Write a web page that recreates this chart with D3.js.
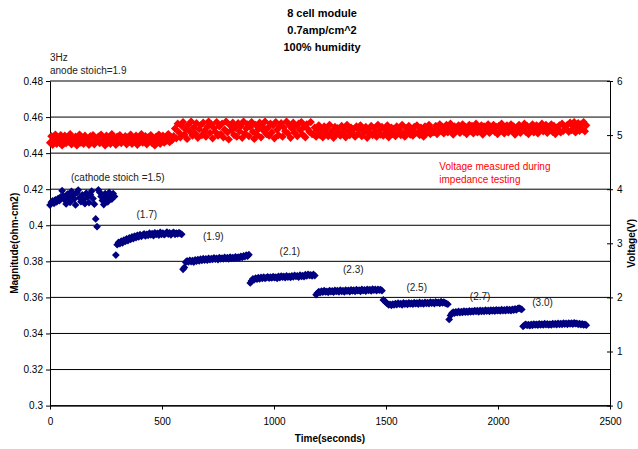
<!DOCTYPE html>
<html>
<head>
<meta charset="utf-8">
<script src="https://cdn.jsdelivr.net/npm/d3@7"></script>
<style>
  body { margin: 0; background: #fff; }
  svg text { font-family: Arial, "Liberation Sans", sans-serif; }
  .axis path, .axis line { stroke: #000; }
  .axis text { font-size: 10px; fill: #000; }
</style>
</head>
<body>
<div id="chart"></div>
<script>
// Readings every 6 s; each stoich step starts at its own time.
var sampleStep = 6;

var titleLines = ["8 cell module", "0.7amp/cm^2", "100% humidity"];
var noteLines = ["3Hz", "anode stoich=1.9"];

var magTicks = [0.3, 0.32, 0.34, 0.36, 0.38, 0.4, 0.42, 0.44, 0.46, 0.48];
var voltTicks = [0, 1, 2, 3, 4, 5, 6];
var timeTicks = [0, 500, 1000, 1500, 2000, 2500];

// cathode stoich steps: label, start time (s), label anchor [time, magnitude]
var stoichLabels = ["(cathode stoich =1.5)", "(1.7)", "(1.9)", "(2.1)", "(2.3)", "(2.5)", "(2.7)", "(3.0)"];
var stoichStart = [0, 294, 594, 894, 1188, 1488, 1782, 2112];
var stoichLabelAt = [[303, 0.4246], [432, 0.404], [729, 0.3919], [1071, 0.3835],
                     [1354, 0.3736], [1637, 0.3636], [1920, 0.3586], [2199, 0.3553]];

// Impedance magnitude (ohm-cm2) per stoich step
var mag15 = [0.4112, 0.4128, 0.4135, 0.4122, 0.4141, 0.4130, 0.4148, 0.4136, 0.4158, 0.4192,
             0.4162, 0.4140, 0.4118, 0.4173, 0.4150, 0.4127, 0.4188, 0.4163, 0.4145, 0.4113,
             0.4180, 0.4195, 0.4152, 0.4131, 0.4168, 0.4142, 0.4120, 0.4178, 0.4157, 0.4126,
             0.4171, 0.4190, 0.4148, 0.4117, 0.4035, 0.3992, 0.4196, 0.4183, 0.4160, 0.4138,
             0.4115, 0.4175, 0.4152, 0.4130, 0.4182, 0.4168, 0.4145, 0.4176, 0.4160];
var mag17 = [0.3835, 0.3892, 0.3905, 0.3898, 0.3912, 0.3903, 0.3918, 0.3910, 0.3925, 0.3915,
             0.3930, 0.3922, 0.3935, 0.3926, 0.3940, 0.3931, 0.3944, 0.3936, 0.3948, 0.3939,
             0.3945, 0.3952, 0.3941, 0.3950, 0.3944, 0.3956, 0.3947, 0.3953, 0.3943, 0.3958,
             0.3949, 0.3955, 0.3946, 0.3961, 0.3950, 0.3957, 0.3948, 0.3954, 0.3962, 0.3951,
             0.3958, 0.3947, 0.3956, 0.3960, 0.3950, 0.3957, 0.3952, 0.3959, 0.3954, 0.3950];
var mag19 = [0.3756, 0.3766, 0.3795, 0.3802, 0.3797, 0.3806, 0.3799, 0.3804, 0.3796, 0.3808,
             0.3801, 0.3810, 0.3803, 0.3812, 0.3805, 0.3815, 0.3807, 0.3813, 0.3806, 0.3817,
             0.3809, 0.3815, 0.3811, 0.3819, 0.3812, 0.3817, 0.3810, 0.3820, 0.3813, 0.3818,
             0.3814, 0.3822, 0.3815, 0.3820, 0.3813, 0.3823, 0.3816, 0.3821, 0.3817, 0.3825,
             0.3818, 0.3823, 0.3819, 0.3828, 0.3822, 0.3830, 0.3826, 0.3834, 0.3829, 0.3837];
var mag21 = [0.3680, 0.3692, 0.3703, 0.3698, 0.3707, 0.3701, 0.3709, 0.3703, 0.3711, 0.3705,
             0.3712, 0.3706, 0.3710, 0.3714, 0.3707, 0.3712, 0.3708, 0.3715, 0.3709, 0.3713,
             0.3706, 0.3716, 0.3710, 0.3718, 0.3712, 0.3716, 0.3709, 0.3719, 0.3713, 0.3717,
             0.3711, 0.3720, 0.3714, 0.3722, 0.3716, 0.3720, 0.3713, 0.3723, 0.3717, 0.3721,
             0.3715, 0.3726, 0.3720, 0.3728, 0.3722, 0.3725, 0.3719, 0.3727, 0.3721];
var mag23 = [0.3615, 0.3624, 0.3632, 0.3627, 0.3635, 0.3629, 0.3637, 0.3630, 0.3634, 0.3628,
             0.3638, 0.3632, 0.3636, 0.3629, 0.3639, 0.3633, 0.3637, 0.3631, 0.3640, 0.3634,
             0.3638, 0.3630, 0.3641, 0.3635, 0.3639, 0.3632, 0.3642, 0.3636, 0.3640, 0.3633,
             0.3643, 0.3637, 0.3641, 0.3634, 0.3644, 0.3638, 0.3642, 0.3635, 0.3645, 0.3639,
             0.3643, 0.3636, 0.3646, 0.3640, 0.3644, 0.3638, 0.3645, 0.3640, 0.3643, 0.3637];
var mag25 = [0.3586, 0.3580, 0.3572, 0.3565, 0.3559, 0.3562, 0.3556, 0.3563, 0.3558, 0.3566,
             0.3560, 0.3568, 0.3562, 0.3566, 0.3559, 0.3569, 0.3563, 0.3567, 0.3561, 0.3570,
             0.3564, 0.3568, 0.3562, 0.3571, 0.3565, 0.3569, 0.3563, 0.3572, 0.3566, 0.3570,
             0.3564, 0.3573, 0.3567, 0.3571, 0.3565, 0.3574, 0.3568, 0.3572, 0.3566, 0.3575,
             0.3569, 0.3573, 0.3567, 0.3576, 0.3570, 0.3574, 0.3568, 0.3566, 0.3562];
var mag27 = [0.3478, 0.3500, 0.3512, 0.3518, 0.3513, 0.3520, 0.3515, 0.3522, 0.3516, 0.3521,
             0.3517, 0.3524, 0.3518, 0.3523, 0.3519, 0.3525, 0.3520, 0.3524, 0.3521, 0.3527,
             0.3522, 0.3526, 0.3520, 0.3528, 0.3523, 0.3527, 0.3522, 0.3529, 0.3524, 0.3528,
             0.3523, 0.3530, 0.3525, 0.3529, 0.3524, 0.3531, 0.3526, 0.3530, 0.3525, 0.3532,
             0.3527, 0.3531, 0.3526, 0.3533, 0.3528, 0.3532, 0.3527, 0.3534, 0.3529, 0.3536,
             0.3531, 0.3538, 0.3541, 0.3537, 0.3533];
var mag30 = [0.3440, 0.3446, 0.3451, 0.3445, 0.3449, 0.3443, 0.3450, 0.3445, 0.3452, 0.3447,
             0.3451, 0.3446, 0.3453, 0.3448, 0.3452, 0.3447, 0.3454, 0.3449, 0.3453, 0.3447,
             0.3452, 0.3448, 0.3455, 0.3450, 0.3454, 0.3449, 0.3456, 0.3451, 0.3455, 0.3450,
             0.3457, 0.3452, 0.3456, 0.3451, 0.3458, 0.3453, 0.3457, 0.3452, 0.3459, 0.3454,
             0.3456, 0.3451, 0.3455, 0.3449, 0.3453, 0.3447, 0.3451, 0.3446];
var magSteps = [mag15, mag17, mag19, mag21, mag23, mag25, mag27, mag30];

// Cell voltage (V) measured during impedance testing, in four stretches
var voltStart = [0, 552, 1176, 1716];
var volt1 = [4.86, 4.98, 4.82, 4.93, 5.01, 4.84, 4.95, 4.89, 5.00, 4.81,
             4.92, 4.99, 4.85, 4.96, 4.88, 5.02, 4.83, 4.94, 4.90, 4.97,
             4.81, 4.91, 5.01, 4.86, 4.95, 4.84, 4.99, 4.89, 4.93, 4.82,
             4.98, 4.87, 5.00, 4.83, 4.94, 4.90, 4.97, 4.85, 5.01, 4.88,
             4.92, 4.81, 4.99, 4.86, 4.95, 4.84, 5.02, 4.89, 4.93, 4.82,
             4.97, 4.87, 5.00, 4.85, 4.94, 4.91, 4.98, 4.83, 4.96, 4.88,
             5.01, 4.84, 4.93, 4.90, 4.99, 4.82, 4.95, 4.87, 5.02, 4.86,
             4.92, 4.98, 4.83, 4.96, 4.89, 5.00, 4.85, 4.94, 4.81, 4.97,
             4.88, 5.01, 4.84, 4.93, 4.99, 4.86, 4.95, 4.90, 5.02, 4.87,
             4.96, 4.91];
var volt2 = [4.98, 5.12, 4.94, 5.21, 5.05, 4.96, 5.17, 5.24, 5.01, 5.10,
             4.93, 5.19, 5.07, 5.25, 4.99, 5.14, 5.03, 5.22, 4.95, 5.11,
             5.18, 5.00, 5.23, 5.08, 4.97, 5.15, 5.25, 5.04, 5.20, 4.94,
             5.13, 5.06, 5.24, 4.99, 5.16, 5.02, 5.21, 4.96, 5.10, 5.25,
             5.05, 4.92, 5.18, 5.09, 5.23, 5.00, 5.14, 4.97, 5.22, 5.07,
             5.17, 4.95, 5.25, 5.03, 5.12, 5.20, 4.98, 5.15, 5.24, 5.06,
             4.93, 5.19, 5.01, 5.11, 5.23, 4.96, 5.16, 5.08, 5.25, 5.02,
             5.13, 4.99, 5.21, 5.05, 5.18, 4.94, 5.24, 5.10, 5.00, 5.17,
             5.22, 4.97, 5.14, 5.07, 5.25, 5.03, 5.19, 4.95, 5.12, 5.23,
             5.04, 5.16, 4.98, 5.21, 5.09, 5.24, 5.01, 5.15, 4.96, 5.20,
             5.11, 5.06, 5.24, 5.02];
var volt3 = [5.02, 5.14, 4.97, 5.09, 5.18, 5.00, 5.11, 4.96, 5.16, 5.05,
             5.12, 4.98, 5.19, 5.04, 5.08, 4.95, 5.15, 5.01, 5.13, 5.06,
             4.99, 5.17, 5.03, 5.10, 4.96, 5.19, 5.07, 5.00, 5.14, 5.04,
             5.11, 4.97, 5.16, 5.02, 5.09, 5.18, 4.98, 5.12, 5.05, 5.15,
             4.95, 5.10, 5.03, 5.17, 5.00, 5.13, 5.06, 4.97, 5.19, 5.08,
             5.01, 5.15, 4.99, 5.11, 5.04, 5.18, 4.96, 5.09, 5.14, 5.02,
             5.12, 4.98, 5.16, 5.05, 5.10, 5.00, 5.19, 5.03, 4.97, 5.13,
             5.07, 5.17, 5.01, 5.11, 4.99, 5.15, 5.04, 5.18, 5.06, 5.00,
             5.14, 5.08, 4.97, 5.16, 5.03, 5.12, 5.19, 5.02, 5.10, 5.05];
var volt4 = [5.06, 5.17, 5.02, 5.13, 5.20, 5.08, 5.15, 5.03, 5.11, 5.19,
             5.05, 5.14, 5.21, 5.09, 5.01, 5.16, 5.07, 5.12, 5.18, 5.04,
             5.10, 5.20, 5.06, 5.15, 5.02, 5.13, 5.19, 5.08, 5.17, 5.03,
             5.11, 5.21, 5.05, 5.14, 5.09, 5.18, 5.01, 5.16, 5.07, 5.12,
             5.20, 5.04, 5.13, 5.10, 5.19, 5.06, 5.15, 5.02, 5.17, 5.08,
             5.21, 5.11, 5.03, 5.14, 5.18, 5.05, 5.12, 5.20, 5.07, 5.16,
             5.01, 5.13, 5.09, 5.19, 5.04, 5.15, 5.11, 5.21, 5.06, 5.17,
             5.02, 5.14, 5.08, 5.20, 5.05, 5.12, 5.18, 5.03, 5.16, 5.10,
             5.21, 5.07, 5.13, 5.19, 5.04, 5.15, 5.09, 5.20, 5.06, 5.17,
             5.02, 5.14, 5.11, 5.18, 5.05, 5.21, 5.08, 5.16, 5.12, 5.19,
             5.06, 5.23, 5.09, 5.17, 5.24, 5.05, 5.14, 5.22, 5.08, 5.20,
             5.11, 5.24, 5.07, 5.18];
var voltStretches = [volt1, volt2, volt3, volt4];

var voltNote = ["Voltage measured during", "impedance testing"];
var voltNoteAt = [1738, 0.4304];

// Turn the step arrays into {t, v} points.
function toPoints(starts, lists) {
  var pts = [];
  lists.forEach(function(list, k) {
    list.forEach(function(v, i) {
      pts.push({ t: starts[k] + i * sampleStep, v: v });
    });
  });
  return pts;
}
var magPoints = toPoints(stoichStart, magSteps);
var voltPoints = toPoints(voltStart, voltStretches);

// Chart frame (plot area edges in pixels).
var chartW = 638, chartH = 449;
var plotL = 50, plotR = 610, plotT = 81, plotB = 405.6;

var xScale = d3.scaleLinear().domain([0, 2500]).range([plotL, plotR]);
var yMag = d3.scaleLinear().domain([0.3, 0.48]).range([plotB, plotT]);
var yVolt = d3.scaleLinear().domain([0, 6]).range([plotB, plotT]);

var svg = d3.select("#chart").append("svg")
  .attr("width", chartW)
  .attr("height", chartH);

// Gridlines at the magnitude ticks.
svg.append("g")
  .selectAll("line")
  .data(magTicks)
  .enter().append("line")
  .attr("x1", plotL)
  .attr("x2", plotR)
  .attr("y1", function(d) { return yMag(d); })
  .attr("y2", function(d) { return yMag(d); })
  .attr("stroke", "#000")
  .attr("stroke-width", 1);

// Axes.
svg.append("g")
  .attr("class", "axis")
  .attr("transform", "translate(" + plotL + ",0)")
  .call(d3.axisLeft(yMag).tickValues(magTicks).tickFormat(String)
    .tickSize(4).tickSizeOuter(0).tickPadding(3));

var rightAxis = svg.append("g")
  .attr("class", "axis")
  .attr("transform", "translate(" + plotR + ",0)")
  .call(d3.axisRight(yVolt).tickValues(voltTicks).tickFormat(String)
    .tickSize(3).tickSizeOuter(0).tickPadding(4));
rightAxis.selectAll(".tick line").attr("x1", -3);

svg.append("g")
  .attr("class", "axis")
  .attr("transform", "translate(0," + plotB + ")")
  .call(d3.axisBottom(xScale).tickValues(timeTicks).tickFormat(String)
    .tickSize(4).tickSizeOuter(0).tickPadding(8));

svg.selectAll(".axis .domain").attr("stroke", "#000");

// Markers: Excel-style diamonds (rotated squares).
var diamond = d3.symbol().type(d3.symbolSquare).size(30);
var diamondVolt = d3.symbol().type(d3.symbolSquare).size(34);

svg.append("g")
  .selectAll("path")
  .data(magPoints)
  .enter().append("path")
  .attr("d", diamond)
  .attr("fill", "#000080")
  .attr("transform", function(d) {
    return "translate(" + xScale(d.t) + "," + yMag(d.v) + ") rotate(45)";
  });

svg.append("g")
  .selectAll("path")
  .data(voltPoints)
  .enter().append("path")
  .attr("d", diamondVolt)
  .attr("fill", "#ff0000")
  .attr("transform", function(d) {
    return "translate(" + xScale(d.t) + "," + yVolt(d.v) + ") rotate(45)";
  });

// Stoich step labels.
svg.append("g")
  .selectAll("text")
  .data(stoichLabels)
  .enter().append("text")
  .attr("x", function(d, i) { return xScale(stoichLabelAt[i][0]); })
  .attr("y", function(d, i) { return yMag(stoichLabelAt[i][1]); })
  .attr("text-anchor", "middle")
  .attr("font-size", "10px")
  .attr("fill", "#222")
  .text(function(d) { return d; });

// Voltage note.
svg.append("g")
  .selectAll("text")
  .data(voltNote)
  .enter().append("text")
  .attr("x", xScale(voltNoteAt[0]))
  .attr("y", function(d, i) { return yMag(voltNoteAt[1]) + i * 12.5; })
  .attr("font-size", "10px")
  .attr("fill", "#ff0000")
  .text(function(d) { return d; });

// Title.
svg.append("g")
  .selectAll("text")
  .data(titleLines)
  .enter().append("text")
  .attr("x", 322)
  .attr("y", function(d, i) { return 17 + i * 17; })
  .attr("text-anchor", "middle")
  .attr("font-size", "11px")
  .attr("font-weight", "bold")
  .text(function(d) { return d; });

// Test conditions, top left.
svg.append("g")
  .selectAll("text")
  .data(noteLines)
  .enter().append("text")
  .attr("x", 50)
  .attr("y", function(d, i) { return 61 + i * 13; })
  .attr("font-size", "10px")
  .attr("fill", "#222")
  .text(function(d) { return d; });

// Axis titles.
svg.append("text")
  .attr("transform", "translate(18," + ((plotT + plotB) / 2) + ") rotate(-90)")
  .attr("text-anchor", "middle")
  .attr("font-size", "10px")
  .attr("font-weight", "bold")
  .text("Magnitude(ohm-cm2)");

svg.append("text")
  .attr("transform", "translate(635," + ((plotT + plotB) / 2) + ") rotate(-90)")
  .attr("text-anchor", "middle")
  .attr("font-size", "10px")
  .attr("font-weight", "bold")
  .text("Voltage(V)");

svg.append("text")
  .attr("x", (plotL + plotR) / 2)
  .attr("y", 442)
  .attr("text-anchor", "middle")
  .attr("font-size", "10px")
  .attr("font-weight", "bold")
  .text("Time(seconds)");
</script>
</body>
</html>
